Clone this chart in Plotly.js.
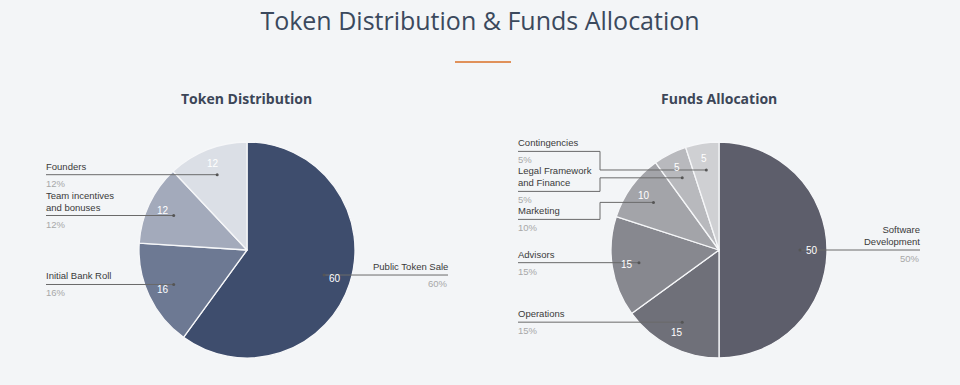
<!DOCTYPE html>
<html><head><meta charset="utf-8">
<script src="https://cdn.plot.ly/plotly-3.0.1.min.js"></script>
<style>html,body{margin:0;padding:0;background:#f3f5f7;}#chart{width:960px;height:385px;}</style>
</head><body><div id="chart"></div>
<script>
const mainTitle = 'Token Distribution &amp; Funds Allocation';

const tokenTitle = 'Token Distribution';
const tokenCategories = ['Public Token Sale', 'Initial Bank Roll', 'Team incentives and bonuses', 'Founders'];
const tokenValues = [60, 16, 12, 12];
const tokenColors = ['#3e4d6d', '#6d7993', '#a3aabb', '#dbdfe6'];

const fundsTitle = 'Funds Allocation';
const fundsCategories = ['Software Development', 'Operations', 'Advisors', 'Marketing', 'Legal Framework and Finance', 'Contingencies'];
const fundsValues = [50, 15, 15, 10, 5, 5];
const fundsColors = ['#5d5e6b', '#6f7079', '#87888f', '#a3a4a9', '#b8b9bd', '#cfd0d3'];

const W = 960, H = 385;
const X = px => px / W;
const Y = py => 1 - py / H;

const pies = [
  {title: tokenTitle, cats: tokenCategories, vals: tokenValues, colors: tokenColors, cx: 247, cy: 250, r: 108},
  {title: fundsTitle, cats: fundsCategories, vals: fundsValues, colors: fundsColors, cx: 719, cy: 250, r: 108}
];

function wrap(s, max) {
  const words = s.split(' '); const lines = []; let cur = '';
  for (const w of words) {
    const t = cur ? cur + ' ' + w : w;
    if (t.length > max && cur) { lines.push(cur); cur = w; } else cur = t;
  }
  if (cur) lines.push(cur);
  return lines;
}

const traces = [], shapes = [], annotations = [];
const FONT = 'Liberation Sans, Arial, sans-serif';
const labelFont = {family: FONT, size: 9.5, color: '#3a3a3a'};
const pctFont = {family: FONT, size: 9.5, color: '#a8a8a8'};
const valueFont = {family: FONT, size: 10, color: '#ffffff'};

// orange separator under main title
shapes.push({type: 'line', xref: 'paper', yref: 'paper', x0: X(455), x1: X(511), y0: Y(62), y1: Y(62),
  line: {color: '#e0915a', width: 2}});

pies.forEach(p => {
  traces.push({
    type: 'pie', values: p.vals, labels: p.cats, sort: false, direction: 'clockwise', rotation: 0,
    marker: {colors: p.colors, line: {color: '#f6f7f9', width: 1.3}},
    textinfo: 'none', hoverinfo: 'none', showlegend: false,
    domain: {x: [X(p.cx - p.r), X(p.cx + p.r)], y: [Y(p.cy + p.r), Y(p.cy - p.r)]}
  });
  annotations.push({xref: 'paper', yref: 'paper', x: X(p.cx), y: Y(99), xanchor: 'center', yanchor: 'middle',
    text: '<b>' + p.title + '</b>', showarrow: false,
    font: {family: 'Open Sans, Noto Sans, sans-serif', size: 14, color: '#3c4658'}});

  const total = p.vals.reduce((a, b) => a + b, 0);
  let cum = 0;
  const items = p.vals.map((v, i) => {
    const mid = (cum + v / 2) / total; cum += v;
    const ang = 2 * Math.PI * mid;
    const s = Math.sin(ang), c = Math.cos(ang);
    // value text inside the slice
    annotations.push({xref: 'paper', yref: 'paper', x: X(p.cx + 0.86 * p.r * s), y: Y(p.cy - 0.86 * p.r * c),
      xanchor: 'center', yanchor: 'middle', text: String(v), showarrow: false, font: valueFont});
    return {i, v, lines: wrap(p.cats[i], 17), dx: p.cx + 0.75 * p.r * s, dy: p.cy - 0.75 * p.r * c,
      side: s > 0 ? 'right' : 'left'};
  });
  ['left', 'right'].forEach(side => {
    const arr = items.filter(o => o.side === side).sort((a, b) => a.dy - b.dy);
    if (!arr.length) return;
    let off = 0; const offs = [];
    arr.forEach((o, k) => { if (k > 0) off += 16 + 12 * o.lines.length; offs.push(off); });
    const blocks = [];
    arr.forEach((o, k) => {
      const target = o.dy + 3 * (o.lines.length - 1);
      blocks.push({sum: target - offs[k], n: 1, idx: [k]});
      while (blocks.length > 1) {
        const b = blocks[blocks.length - 1], a = blocks[blocks.length - 2];
        if (b.sum / b.n < a.sum / a.n) {
          a.sum += b.sum; a.n += b.n; a.idx = a.idx.concat(b.idx); blocks.pop();
        } else break;
      }
    });
    blocks.forEach(b => b.idx.forEach(k => {
      arr[k].ly = b.n === 1 ? arr[k].dy : b.sum / b.n + offs[k] + 3;
    }));

    const labelX = side === 'left' ? p.cx - 201 : p.cx + 201;
    const elbowX = side === 'left' ? p.cx - p.r - 11 : p.cx + p.r + 11;
    arr.forEach(o => {
      let path;
      if (Math.abs(o.ly - o.dy) < 0.5) {
        path = `M${X(labelX)},${Y(o.ly)} L${X(o.dx)},${Y(o.ly)}`;
      } else {
        path = `M${X(labelX)},${Y(o.ly)} L${X(elbowX)},${Y(o.ly)} L${X(elbowX)},${Y(o.dy)} L${X(o.dx)},${Y(o.dy)}`;
      }
      shapes.push({type: 'path', xref: 'paper', yref: 'paper', path, line: {color: '#6a6a6a', width: 1}});
      shapes.push({type: 'circle', xref: 'paper', yref: 'paper', x0: X(o.dx - 1.5), x1: X(o.dx + 1.5),
        y0: Y(o.dy + 1.5), y1: Y(o.dy - 1.5), fillcolor: '#555555', line: {width: 0}});
      const anch = side === 'left' ? 'left' : 'right';
      const xs = side === 'left' ? -2 : 2;
      annotations.push({xref: 'paper', yref: 'paper', x: X(labelX), y: Y(o.ly - 1), xanchor: anch, yanchor: 'bottom',
        xshift: xs, align: anch, text: o.lines.join('<br>'), showarrow: false, font: labelFont});
      annotations.push({xref: 'paper', yref: 'paper', x: X(labelX), y: Y(o.ly + 1), xanchor: anch, yanchor: 'top',
        xshift: xs, align: anch, text: Math.round(o.v / total * 100) + '%', showarrow: false, font: pctFont});
    });
  });
});

const layout = {
  width: W, height: H, margin: {l: 0, r: 0, t: 0, b: 0},
  paper_bgcolor: '#f3f5f7', plot_bgcolor: '#f3f5f7',
  title: {text: mainTitle, x: 0.5, xanchor: 'center', y: Y(21), yanchor: 'middle', yref: 'paper',
    font: {family: 'Open Sans, Noto Sans, sans-serif', size: 25, color: '#3b495d'}},
  shapes, annotations
};
Plotly.newPlot('chart', traces, layout, {staticPlot: true, displayModeBar: false});
</script></body></html>
